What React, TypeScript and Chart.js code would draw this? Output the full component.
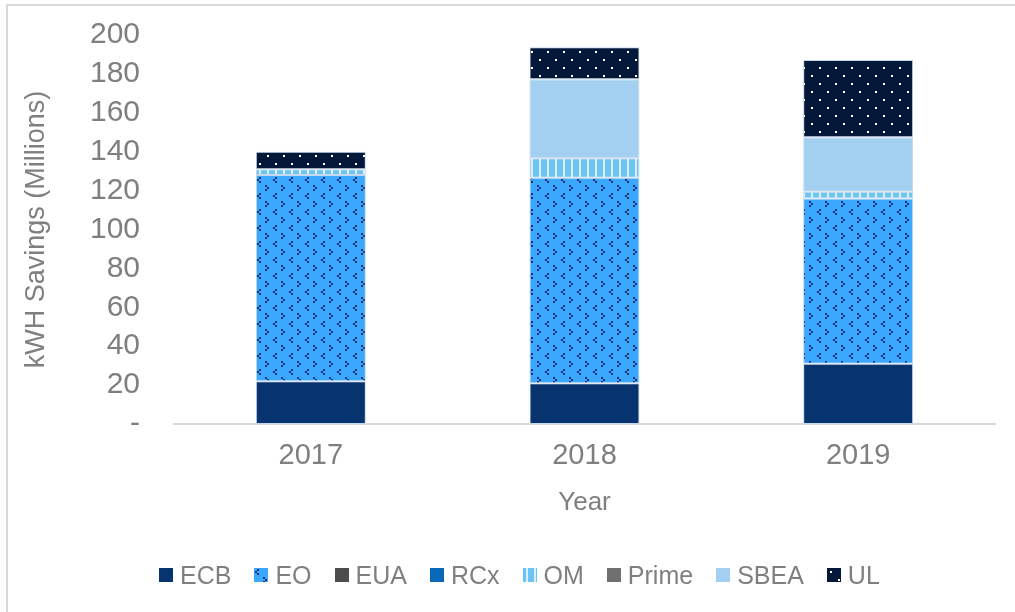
import React, { useEffect, useRef, useMemo } from 'react';
import { Chart, registerables } from 'chart.js';

Chart.register(...registerables);

const categories = ['2017', '2018', '2019'];
const ecbValues = [22, 21, 31];
const eoValues = [106, 105.6, 85];
const euaValues = [0, 0, 0];
const rcxValues = [0, 0, 0];
const omValues = [3, 10, 3.4];
const primeValues = [0, 0, 0];
const sbeaValues = [0, 40.6, 28];
const ulValues = [9, 16.5, 39.7];

const seriesNames = ['ECB', 'EO', 'EUA', 'RCx', 'OM', 'Prime', 'SBEA', 'UL'];
const yTickValues = [0, 20, 40, 60, 80, 100, 120, 140, 160, 180, 200];

const FONT = "'Liberation Sans', Arial, sans-serif";
const TEXT = '#7f7f7f';

function makeTile(w: number, h: number, bg: string, draw: (c: CanvasRenderingContext2D) => void) {
  const c = document.createElement('canvas');
  c.width = w;
  c.height = h;
  const ctx = c.getContext('2d')!;
  ctx.fillStyle = bg;
  ctx.fillRect(0, 0, w, h);
  draw(ctx);
  return c;
}

function makeTiles() {
  const eo = makeTile(16, 16, '#3aa8ff', (c) => {
    c.fillStyle = '#0b3275';
    c.fillRect(3, 1, 2, 2);
    c.fillRect(1, 3, 2, 2);
    c.fillRect(3, 5, 2, 2);
    c.fillRect(9, 9, 2, 2);
    c.fillRect(11, 11, 2, 2);
    c.fillRect(9, 13, 2, 2);
  });
  const om = makeTile(8, 8, '#6cc4f2', (c) => {
    c.fillStyle = '#ddeffa';
    c.fillRect(3, 0, 2, 8);
  });
  const ul = makeTile(16, 16, '#04183a', (c) => {
    c.fillStyle = '#ffffff';
    c.fillRect(3, 3, 2, 2);
    c.fillRect(11, 11, 2, 2);
  });
  return { eo, om, ul };
}

export default function App() {
  const canvasRef = useRef<HTMLCanvasElement | null>(null);
  const tiles = useMemo(() => makeTiles(), []);

  const swatches: Record<string, string> = useMemo(
    () => ({
      ECB: '#07346f',
      EO: `url(${tiles.eo.toDataURL()})`,
      EUA: '#4d4d4d',
      RCx: '#0968b8',
      OM: `url(${tiles.om.toDataURL()})`,
      Prime: '#6f6f6f',
      SBEA: '#a3d0f0',
      UL: `url(${tiles.ul.toDataURL()})`,
    }),
    [tiles]
  );

  useEffect(() => {
    const canvas = canvasRef.current!;
    const ctx = canvas.getContext('2d')!;
    const eoPat = ctx.createPattern(tiles.eo, 'repeat')!;
    const omPat = ctx.createPattern(tiles.om, 'repeat')!;
    const ulPat = ctx.createPattern(tiles.ul, 'repeat')!;
    const border = '#c4d6ea';

    const mk = (label: string, data: number[], bg: any, bw = 1) => ({
      label,
      data,
      backgroundColor: bg,
      borderColor: border,
      borderWidth: bw,
      borderSkipped: false as const,
      barPercentage: 0.402,
      categoryPercentage: 1,
    });

    const chart = new Chart(ctx, {
      type: 'bar',
      data: {
        labels: categories,
        datasets: [
          mk('ECB', ecbValues, '#07346f'),
          mk('EO', eoValues, eoPat),
          mk('EUA', euaValues, '#4d4d4d', 0),
          mk('RCx', rcxValues, '#0968b8', 0),
          mk('OM', omValues, omPat),
          mk('Prime', primeValues, '#6f6f6f', 0),
          mk('SBEA', sbeaValues, '#a3d0f0'),
          mk('UL', ulValues, ulPat),
        ],
      },
      options: {
        animation: false,
        responsive: false,
        maintainAspectRatio: false,
        layout: { padding: { left: 0, right: 20, top: 35, bottom: 94 } },
        plugins: {
          legend: { display: false },
          tooltip: { enabled: false },
        },
        scales: {
          x: {
            stacked: true,
            grid: { display: false, drawTicks: false },
            border: { display: true, color: '#d9d9d9', width: 2 },
            ticks: {
              color: TEXT,
              font: { family: FONT, size: 29 },
              padding: 15,
              maxRotation: 0,
            },
            title: {
              display: true,
              text: 'Year',
              color: TEXT,
              font: { family: FONT, size: 26 },
              padding: { top: 0, bottom: 0 },
            },
            afterFit: (scale: any) => {
              scale.height = 94;
            },
          },
          y: {
            stacked: true,
            min: 0,
            max: 200,
            afterBuildTicks: (scale: any) => {
              scale.ticks = yTickValues.map((v) => ({ value: v }));
            },
            grid: { display: false, drawTicks: false },
            border: { display: false },
            ticks: {
              color: TEXT,
              font: { family: FONT, size: 30 },
              padding: 34,
              autoSkip: false,
              callback: (v: any) => (Number(v) === 0 ? '-' : String(v)),
            },
            title: {
              display: true,
              text: 'kWH Savings (Millions)',
              color: TEXT,
              font: { family: FONT, size: 27 },
              padding: { top: 20, bottom: 0 },
            },
            afterFit: (scale: any) => {
              scale.width = 174;
              scale.paddingTop = 18;
              scale.paddingBottom = 18;
            },
          },
        },
      },
    });
    return () => chart.destroy();
  }, [tiles]);

  return (
    <div
      style={{
        position: 'fixed',
        left: 0,
        top: 0,
        width: 1015,
        height: 612,
        overflow: 'hidden',
        background: '#ffffff',
      }}
    >
      <div
        style={{
          position: 'absolute',
          left: 6,
          top: 4,
          width: 1015,
          height: 612,
          border: '2px solid #d9d9d9',
          boxSizing: 'border-box',
        }}
      />
      <canvas
        ref={canvasRef}
        width={1015}
        height={612}
        style={{ position: 'absolute', left: 0, top: 0, width: 1015, height: 612 }}
      />
      <div
        style={{
          position: 'absolute',
          left: 159,
          top: 560,
          height: 30,
          display: 'flex',
          alignItems: 'center',
          fontFamily: FONT,
          fontSize: 25,
          color: TEXT,
          whiteSpace: 'nowrap',
        }}
      >
        {seriesNames.map((name) => (
          <div key={name} style={{ display: 'flex', alignItems: 'center', marginRight: 23 }}>
            <span
              style={{
                display: 'inline-block',
                width: 14,
                height: 14,
                marginRight: 7,
                background: swatches[name],
              }}
            />
            <span>{name}</span>
          </div>
        ))}
      </div>
    </div>
  );
}
